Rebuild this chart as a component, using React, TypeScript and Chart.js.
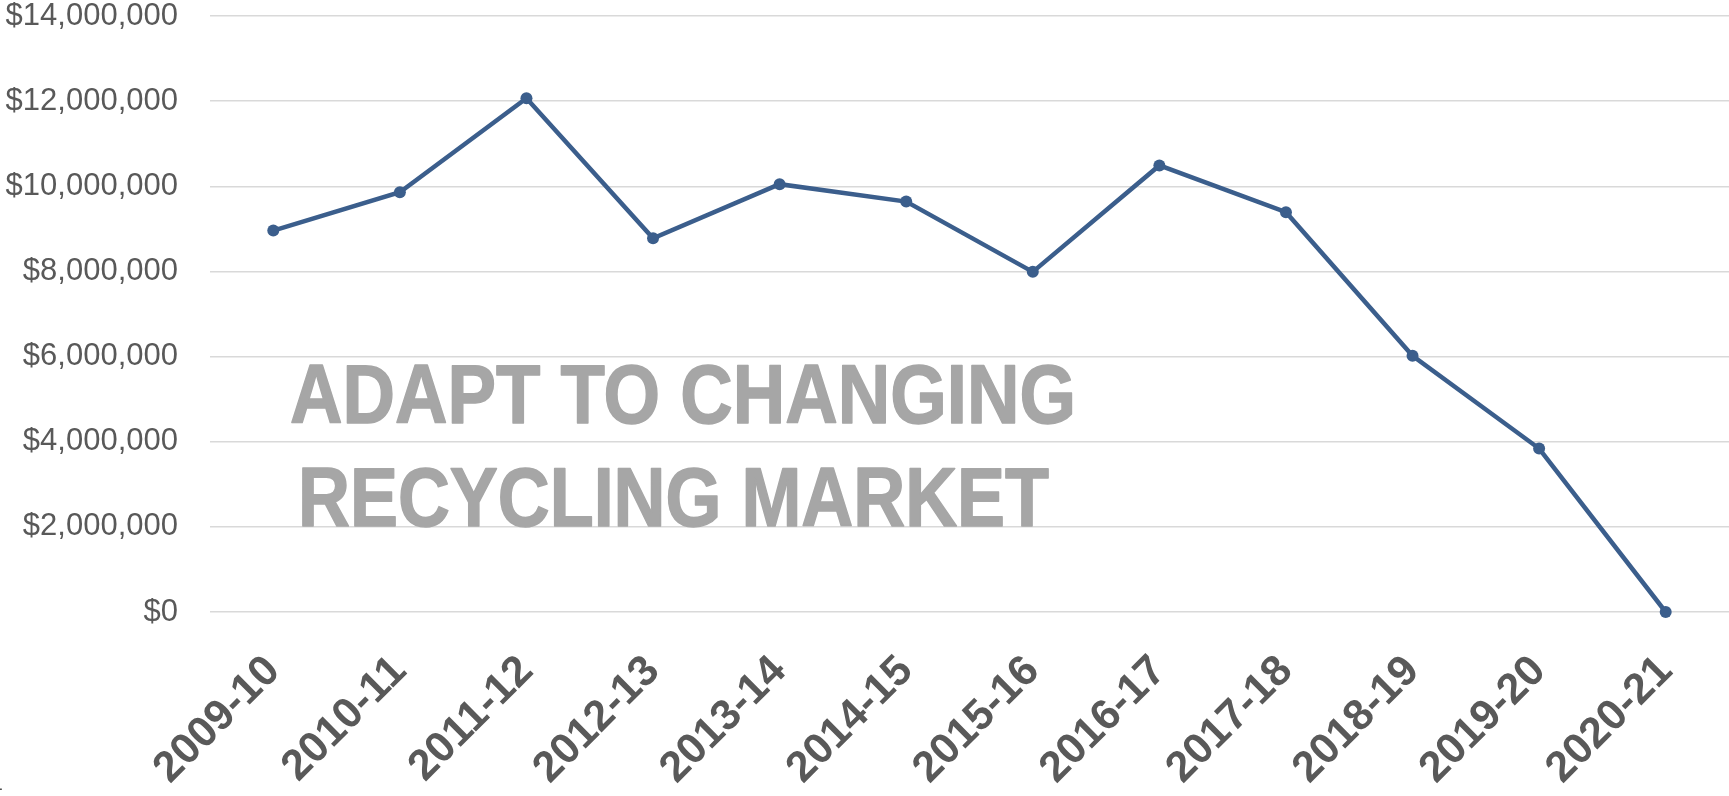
import { useEffect, useRef } from "react";
import { Chart, registerables } from "chart.js";

Chart.register(...registerables);

const categories = [
  "2009-10", "2010-11", "2011-12", "2012-13", "2013-14", "2014-15",
  "2015-16", "2016-17", "2017-18", "2018-19", "2019-20", "2020-21",
];
const revenue = [
  8960000, 9860000, 12070000, 8780000, 10050000, 9640000,
  7990000, 10490000, 9390000, 6020000, 3840000, 0,
];
const yMin = 0;
const yMax = 14000000;
const yStep = 2000000;
const overlayLines = ["ADAPT TO CHANGING", "RECYCLING MARKET"];

const LINE_COLOR = "#3B5E8C";
const GRID_COLOR = "#D9D9D9";
const LABEL_COLOR = "#595959";

const overlayPlugin = {
  id: "overlayText",
  afterDatasetsDraw(chart: any) {
    const ctx = chart.ctx as CanvasRenderingContext2D;
    ctx.save();
    ctx.fillStyle = "#A6A6A6";
    ctx.strokeStyle = "#A6A6A6";
    ctx.lineWidth = 1.5;
    ctx.lineJoin = "round";
    ctx.textBaseline = "alphabetic";
    ctx.textAlign = "left";
    ctx.font = 'bold 84px "Liberation Sans Narrow", "Liberation Sans", Arial, sans-serif';
    const specs = [
      { x: 290, y: 423, w: 786 },
      { x: 298, y: 526, w: 751 },
    ];
    overlayLines.forEach((t, i) => {
      const s = specs[i];
      const m = ctx.measureText(t).width;
      ctx.save();
      ctx.translate(s.x, s.y);
      ctx.scale(s.w / m, 1);
      ctx.fillText(t, 0, 0);
      ctx.strokeText(t, 0, 0);
      ctx.restore();
    });
    ctx.fillStyle = "#000000";
    ctx.font = '14px "Liberation Sans", Arial, sans-serif';
    ctx.fillText(".", -1, 790);
    ctx.restore();
  },
};

export default function App() {
  const canvasRef = useRef<HTMLCanvasElement | null>(null);

  useEffect(() => {
    document.body.style.margin = "0";
    const canvas = canvasRef.current;
    if (!canvas) return;
    const chart = new Chart(canvas, {
      type: "line",
      data: {
        labels: categories,
        datasets: [
          {
            data: revenue,
            borderColor: LINE_COLOR,
            backgroundColor: LINE_COLOR,
            borderWidth: 4.5,
            pointRadius: 6,
            pointBorderWidth: 0,
            pointBackgroundColor: LINE_COLOR,
            tension: 0,
            clip: false,
          },
        ],
      },
      options: {
        responsive: false,
        animation: false,
        devicePixelRatio: 1,
        layout: { autoPadding: false, padding: { top: 16, right: 0, left: 0, bottom: 0 } },
        plugins: {
          legend: { display: false },
          tooltip: { enabled: false },
        },
        scales: {
          x: {
            offset: true,
            grid: { display: false, drawTicks: false },
            border: { display: false },
            ticks: {
              autoSkip: false,
              maxRotation: 45,
              minRotation: 45,
              padding: 34,
              color: LABEL_COLOR,
              font: { family: '"Liberation Sans", Arial, sans-serif', size: 43, weight: "bold" },
            },
            afterFit(scale: any) {
              scale.height = 184;
              scale.paddingLeft = 0;
              scale.paddingRight = 0;
            },
          },
          y: {
            min: yMin,
            max: yMax,
            grid: { color: GRID_COLOR, lineWidth: 1.5, drawTicks: false },
            border: { display: false },
            ticks: {
              stepSize: yStep,
              padding: 32,
              color: LABEL_COLOR,
              font: { family: '"Liberation Sans", Arial, sans-serif', size: 31, lineHeight: 1 },
              callback: (v: any) => "$" + Number(v).toLocaleString("en-US"),
            },
            afterFit(scale: any) {
              scale.width = 210;
              scale.paddingTop = 0;
              scale.paddingBottom = 0;
            },
          },
        },
      },
      plugins: [overlayPlugin],
    });
    return () => chart.destroy();
  }, []);

  return (
    <div style={{ width: 1729, height: 796, position: "relative", background: "#fff" }}>
      <canvas ref={canvasRef} width={1729} height={796} style={{ display: "block" }} />
    </div>
  );
}
